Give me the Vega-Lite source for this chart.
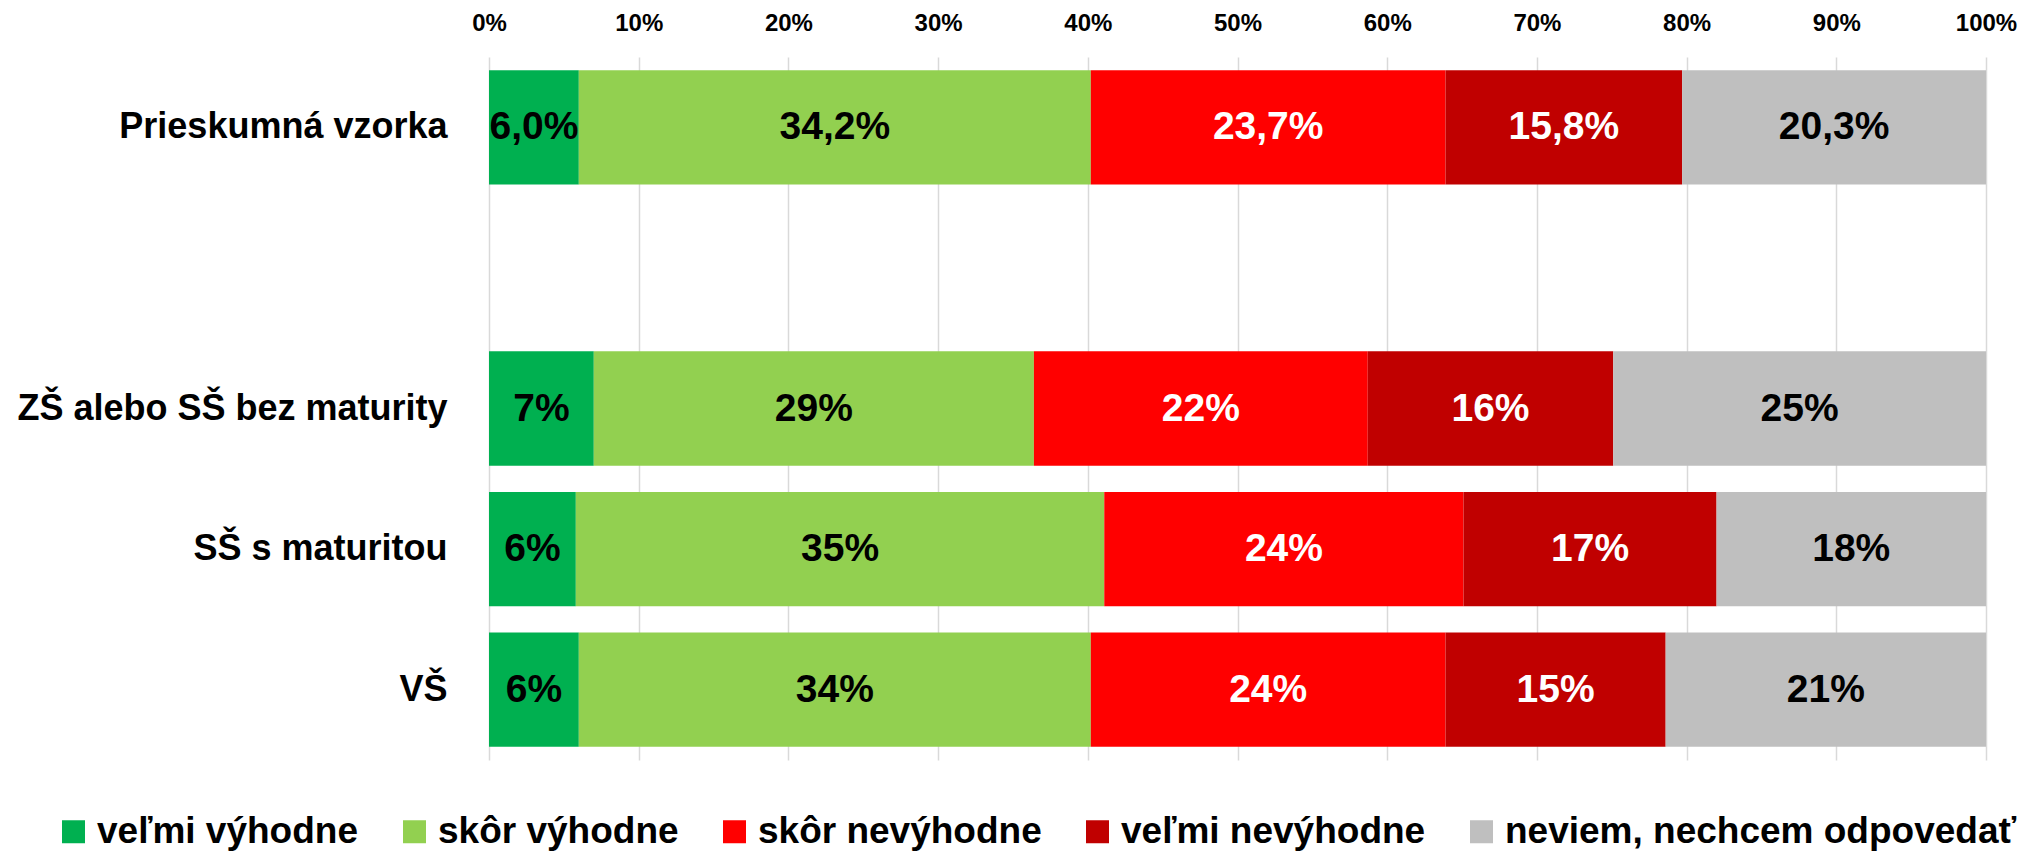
{
  "$schema": "https://vega.github.io/schema/vega-lite/v6.json",
  "width": 1497,
  "height": 703,
  "autosize": {"type": "none"},
  "padding": {"left": 489, "top": 57, "right": 44, "bottom": 92},
  "background": "white",
  "config": {
    "locale": {"number": {"decimal": ",", "thousands": " ", "grouping": [3], "currency": ["", " €"]}},
    "view": {"stroke": null},
    "font": "Liberation Sans"
  },
  "data": {
    "values": [
      {"group": "Prieskumná vzorka", "cat": "veľmi výhodne", "k": 1, "value": 0.060},
      {"group": "Prieskumná vzorka", "cat": "skôr výhodne", "k": 2, "value": 0.342},
      {"group": "Prieskumná vzorka", "cat": "skôr nevýhodne", "k": 3, "value": 0.237},
      {"group": "Prieskumná vzorka", "cat": "veľmi nevýhodne", "k": 4, "value": 0.158},
      {"group": "Prieskumná vzorka", "cat": "neviem, nechcem odpovedať", "k": 5, "value": 0.203},
      {"group": "ZŠ alebo SŠ bez maturity", "cat": "veľmi výhodne", "k": 1, "value": 0.070},
      {"group": "ZŠ alebo SŠ bez maturity", "cat": "skôr výhodne", "k": 2, "value": 0.294},
      {"group": "ZŠ alebo SŠ bez maturity", "cat": "skôr nevýhodne", "k": 3, "value": 0.223},
      {"group": "ZŠ alebo SŠ bez maturity", "cat": "veľmi nevýhodne", "k": 4, "value": 0.164},
      {"group": "ZŠ alebo SŠ bez maturity", "cat": "neviem, nechcem odpovedať", "k": 5, "value": 0.249},
      {"group": "SŠ s maturitou", "cat": "veľmi výhodne", "k": 1, "value": 0.058},
      {"group": "SŠ s maturitou", "cat": "skôr výhodne", "k": 2, "value": 0.353},
      {"group": "SŠ s maturitou", "cat": "skôr nevýhodne", "k": 3, "value": 0.240},
      {"group": "SŠ s maturitou", "cat": "veľmi nevýhodne", "k": 4, "value": 0.169},
      {"group": "SŠ s maturitou", "cat": "neviem, nechcem odpovedať", "k": 5, "value": 0.180},
      {"group": "VŠ", "cat": "veľmi výhodne", "k": 1, "value": 0.060},
      {"group": "VŠ", "cat": "skôr výhodne", "k": 2, "value": 0.342},
      {"group": "VŠ", "cat": "skôr nevýhodne", "k": 3, "value": 0.237},
      {"group": "VŠ", "cat": "veľmi nevýhodne", "k": 4, "value": 0.147},
      {"group": "VŠ", "cat": "neviem, nechcem odpovedať", "k": 5, "value": 0.214}
    ]
  },
  "transform": [
    {"stack": "value", "groupby": ["group"], "sort": [{"field": "k", "order": "ascending"}], "as": ["v0", "v1"]}
  ],
  "encoding": {
    "y": {
      "field": "group",
      "type": "nominal",
      "title": null,
      "scale": {
        "domain": ["Prieskumná vzorka", " ", "ZŠ alebo SŠ bez maturity", "SŠ s maturitou", "VŠ"],
        "paddingInner": 0.187,
        "paddingOuter": 0.0935
      },
      "axis": {
        "labelFontSize": 36,
        "labelFontWeight": "bold",
        "labelColor": "black",
        "ticks": false,
        "domain": false,
        "grid": false,
        "labelPadding": 42,
        "labelLimit": 0
      }
    }
  },
  "layer": [
    {
      "mark": {"type": "bar"},
      "encoding": {
        "x": {
          "field": "v0",
          "type": "quantitative",
          "title": null,
          "scale": {"domain": [0, 1], "nice": false},
          "axis": {
            "orient": "top",
            "format": ".0%",
            "values": [0, 0.1, 0.2, 0.3, 0.4, 0.5, 0.6, 0.7, 0.8, 0.9, 1],
            "labelFontSize": 24,
            "labelFontWeight": "bold",
            "labelColor": "black",
            "ticks": false,
            "tickSize": 0,
            "domain": false,
            "grid": true,
            "gridColor": "#d9d9d9",
            "gridWidth": 1.5,
            "labelPadding": 22,
            "labelFlush": false
          }
        },
        "x2": {"field": "v1"},
        "color": {
          "field": "cat",
          "type": "nominal",
          "title": null,
          "scale": {
            "domain": ["veľmi výhodne", "skôr výhodne", "skôr nevýhodne", "veľmi nevýhodne", "neviem, nechcem odpovedať"],
            "range": ["#00b050", "#92d050", "#ff0000", "#c00000", "#bfbfbf"]
          },
          "legend": {
            "orient": "none",
            "legendX": -434,
            "legendY": 756,
            "direction": "horizontal",
            "padding": 0,
            "symbolType": "square",
            "symbolSize": 529,
            "symbolStrokeWidth": 0,
            "symbolOpacity": 1,
            "labelFontSize": 37,
            "labelFontWeight": "bold",
            "labelColor": "black",
            "labelOffset": 5,
            "labelLimit": 0,
            "columnPadding": 37
          }
        }
      }
    },
    {
      "transform": [
        {"fold": ["v0", "v1"], "as": ["edge", "pos"]},
        {"aggregate": [{"op": "mean", "field": "pos", "as": "mid"}], "groupby": ["group", "cat", "k", "value"]}
      ],
      "mark": {"type": "text", "fontSize": 39, "fontWeight": "bold", "baseline": "middle", "align": "center"},
      "encoding": {
        "x": {"field": "mid", "type": "quantitative"},
        "text": {
          "condition": {"test": "datum.group === 'Prieskumná vzorka'", "field": "value", "type": "quantitative", "format": ".1%"},
          "field": "value",
          "type": "quantitative",
          "format": ".0%"
        },
        "color": {
          "condition": {"test": "datum.k === 3 || datum.k === 4", "value": "white"},
          "value": "black"
        }
      }
    }
  ]
}
